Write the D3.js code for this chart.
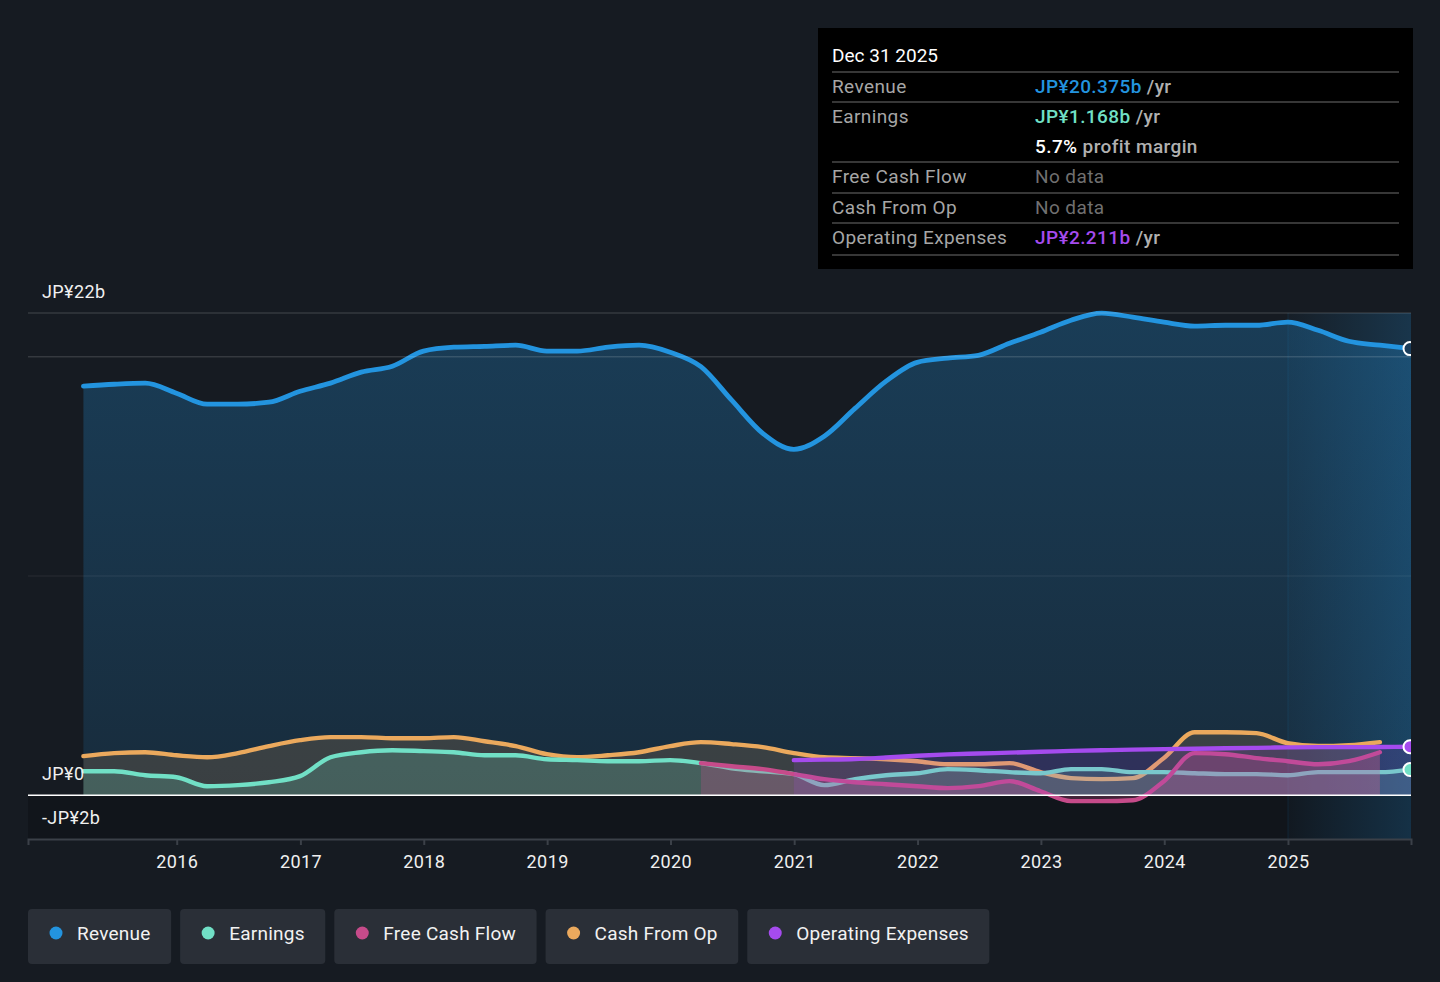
<!DOCTYPE html>
<html>
<head>
<meta charset="utf-8">
<script src="https://cdn.jsdelivr.net/npm/d3@7"></script>
<style>
  body { margin: 0; background: #161b22; }
  svg { display: block; font-family: Roboto, "Noto Sans", sans-serif; }
</style>
</head>
<body>
<svg id="chart" width="1440" height="982"></svg>
<script>
// quarter ends, values in JP¥ billions
const quarters = [
  '2015-03-31','2015-06-30','2015-09-30','2015-12-31',
  '2016-03-31','2016-06-30','2016-09-30','2016-12-31',
  '2017-03-31','2017-06-30','2017-09-30','2017-12-31',
  '2018-03-31','2018-06-30','2018-09-30','2018-12-31',
  '2019-03-31','2019-06-30','2019-09-30','2019-12-31',
  '2020-03-31','2020-06-30','2020-09-30','2020-12-31',
  '2021-03-31','2021-06-30','2021-09-30','2021-12-31',
  '2022-03-31','2022-06-30','2022-09-30','2022-12-31',
  '2023-03-31','2023-06-30','2023-09-30','2023-12-31',
  '2024-03-31','2024-06-30','2024-09-30','2024-12-31',
  '2025-03-31','2025-06-30','2025-09-30','2025-12-31'
];

const revenue = [18.66, 18.75, 18.80, 18.34, 17.84, 17.84, 17.93, 18.43, 18.80, 19.30, 19.57,
  20.26, 20.44, 20.48, 20.53, 20.26, 20.26, 20.44, 20.53, 20.21, 19.55, 18.02, 16.51, 15.78,
  16.38, 17.65, 18.89, 19.75, 19.94, 20.07, 20.62, 21.12, 21.67, 21.99, 21.81, 21.58, 21.40,
  21.44, 21.44, 21.58, 21.21, 20.71, 20.53, 20.375];

const earnings = [1.09, 1.09, 0.91, 0.82, 0.41, 0.46, 0.59, 0.87, 1.73, 1.96, 2.05, 2.01,
  1.96, 1.82, 1.82, 1.64, 1.60, 1.55, 1.55, 1.60, 1.46, 1.23, 1.09, 0.96, 0.46, 0.73, 0.91,
  1.00, 1.19, 1.14, 1.05, 1.00, 1.19, 1.19, 1.05, 1.05, 1.00, 0.96, 0.96, 0.91, 1.05, 1.05,
  1.05, 1.168];

// starts 2020-03-31, ends 2025-09-30
const freeCashFlow = [1.46, 1.32, 1.19, 0.96, 0.73, 0.59, 0.50, 0.41, 0.32, 0.41, 0.64,
  0.18, -0.27, -0.27, -0.23, 0.64, 1.92, 1.87, 1.69, 1.55, 1.41, 1.55, 1.96];

// starts 2015-03-31, ends 2025-09-30
const cashFromOp = [1.78, 1.92, 1.96, 1.82, 1.73, 1.92, 2.24, 2.51, 2.65, 2.65, 2.60, 2.60,
  2.65, 2.46, 2.24, 1.87, 1.73, 1.82, 1.96, 2.24, 2.42, 2.33, 2.19, 1.92, 1.73, 1.69, 1.64,
  1.55, 1.41, 1.41, 1.46, 1.05, 0.78, 0.73, 0.78, 1.70, 2.87, 2.87, 2.83, 2.37, 2.24, 2.28,
  2.42];

// starts 2020-12-31
const opExpenses = [1.60, 1.62, 1.65, 1.72, 1.80, 1.86, 1.90, 1.94, 1.98, 2.02, 2.05, 2.08,
  2.10, 2.12, 2.14, 2.16, 2.18, 2.19, 2.19, 2.20, 2.211];

const yTicks = [-2, 0, 22];
const gridValues = [10, 20, 22];
const xTickYears = [2016, 2017, 2018, 2019, 2020, 2021, 2022, 2023, 2024, 2025];

const colors = {
  revenue: '#2394df',
  earnings: '#71e0c6',
  fcf: '#c64b8a',
  cfo: '#eba95d',
  opex: '#a54bee'
};

const parse = d3.timeParse('%Y-%m-%d');
const dates = quarters.map(parse);

function series(values, startDate) {
  const i0 = quarters.indexOf(startDate);
  return values.map((v, i) => ({ date: dates[i0 + i], value: v }));
}

const revData = series(revenue, '2015-03-31');
const earnData = series(earnings, '2015-03-31');
const fcfData = series(freeCashFlow, '2020-03-31');
const cfoData = series(cashFromOp, '2015-03-31');
const opexData = series(opExpenses, '2020-12-31');

const plotLeft = 28, plotRight = 1411, plotTop = 313, plotBottom = 839;

const x = d3.scaleTime()
  .domain([new Date(2014, 9, 18), new Date(2025, 11, 31)])
  .range([plotLeft, plotRight]);
const y = d3.scaleLinear().domain([-2, 22]).range([plotBottom, plotTop]);

const svg = d3.select('#chart');
const defs = svg.append('defs');

defs.append('clipPath').attr('id', 'plotClip')
  .append('rect').attr('x', plotLeft).attr('y', 0)
  .attr('width', plotRight - plotLeft).attr('height', plotBottom);

svg.append('rect').attr('width', 1440).attr('height', 982).attr('fill', '#161b22');

// darker strip below zero
svg.append('rect')
  .attr('x', plotLeft).attr('y', y(0))
  .attr('width', plotRight - plotLeft).attr('height', plotBottom - y(0))
  .attr('fill', '#11151b');

// highlight band for last year
const bandStart = x(new Date(2025, 0, 1));
const band = defs.append('linearGradient').attr('id', 'band').attr('x1', 0).attr('x2', 1).attr('y1', 0).attr('y2', 0);
band.append('stop').attr('offset', 0).attr('stop-color', '#2394df').attr('stop-opacity', 0.03);
band.append('stop').attr('offset', 1).attr('stop-color', '#2394df').attr('stop-opacity', 0.22);
svg.append('rect')
  .attr('x', bandStart).attr('y', plotTop)
  .attr('width', plotRight - bandStart).attr('height', plotBottom - plotTop)
  .attr('fill', 'url(#band)');
svg.append('line')
  .attr('x1', bandStart).attr('x2', bandStart)
  .attr('y1', plotTop).attr('y2', plotBottom)
  .attr('stroke', '#2394df').attr('stroke-opacity', 0.12);

const revGrad = defs.append('linearGradient').attr('id', 'revGrad')
  .attr('gradientUnits', 'userSpaceOnUse').attr('x1', 0).attr('x2', 0).attr('y1', y(22)).attr('y2', y(0));
revGrad.append('stop').attr('offset', 0).attr('stop-color', colors.revenue).attr('stop-opacity', 0.28);
revGrad.append('stop').attr('offset', 1).attr('stop-color', colors.revenue).attr('stop-opacity', 0.14);

const line = d3.line().x(d => x(d.date)).y(d => y(d.value)).curve(d3.curveMonotoneX);
const area = d3.area().x(d => x(d.date)).y0(y(0)).y1(d => y(d.value)).curve(d3.curveMonotoneX);

const plot = svg.append('g').attr('clip-path', 'url(#plotClip)');

function drawSeries(data, color, fill, width) {
  plot.append('path').datum(data).attr('d', area).attr('fill', fill);
  plot.append('path').datum(data).attr('d', line)
    .attr('fill', 'none').attr('stroke', color)
    .attr('stroke-width', width).attr('stroke-linecap', 'round');
}

drawSeries(revData, colors.revenue, 'url(#revGrad)', 4.8);

// gridlines over the revenue area
gridValues.forEach(v => {
  plot.append('line')
    .attr('x1', plotLeft).attr('x2', plotRight)
    .attr('y1', y(v)).attr('y2', y(v))
    .attr('stroke', '#ffffff').attr('stroke-opacity', v === 10 ? 0.08 : 0.2);
});

drawSeries(cfoData, colors.cfo, 'rgba(235,169,93,0.16)', 4.4);
drawSeries(earnData, colors.earnings, 'rgba(113,224,198,0.2)', 4.4);
drawSeries(fcfData, colors.fcf, 'rgba(198,75,138,0.28)', 4.4);
drawSeries(opexData, colors.opex, 'rgba(165,75,238,0.16)', 4.4);

// zero line and bottom axis
svg.append('line')
  .attr('x1', plotLeft).attr('x2', plotRight).attr('y1', y(0)).attr('y2', y(0))
  .attr('stroke', '#ffffff').attr('stroke-width', 1.5);

const xAxis = svg.append('g')
  .attr('transform', `translate(0,${plotBottom})`)
  .call(d3.axisBottom(x)
    .tickValues(xTickYears.map(yr => new Date(yr, 0, 1)))
    .tickFormat(d3.timeFormat('%Y'))
    .tickSize(6).tickPadding(10));
xAxis.select('.domain').attr('stroke', '#3b4048').attr('stroke-width', 2);
xAxis.selectAll('.tick line').attr('stroke', '#3b4048').attr('stroke-width', 2);
xAxis.selectAll('.tick text')
  .attr('fill', '#f0f0f0').attr('font-size', 18).attr('letter-spacing', 0.4)
  .attr('font-family', 'Roboto');

// y labels
svg.selectAll('.ylab').data(yTicks).enter().append('text')
  .attr('x', 42)
  .attr('y', d => y(d) - 15)
  .attr('fill', '#f0f0f0').attr('font-size', 18).attr('letter-spacing', 0.4)
  .text(d => d === 0 ? 'JP¥0' : (d < 0 ? '-JP¥' + Math.abs(d) + 'b' : 'JP¥' + d + 'b'));

// end markers, clipped at the plot edge
[[revData, '#1b3d5a'], [opexData, colors.opex], [earnData, colors.earnings]].forEach(([data, c]) => {
  const last = data[data.length - 1];
  plot.append('circle')
    .attr('cx', x(last.date) - 1).attr('cy', y(last.value)).attr('r', 6.5)
    .attr('fill', c).attr('stroke', '#ffffff').attr('stroke-width', 2);
});

// tooltip box
const tip = svg.append('g').attr('letter-spacing', 0.4);
tip.append('rect').attr('x', 818).attr('y', 28).attr('width', 595).attr('height', 241).attr('fill', '#000');
tip.append('text').attr('x', 832).attr('y', 62).attr('fill', '#fff').attr('font-size', 19)
  .attr('letter-spacing', 0).text('Dec 31 2025');
[72, 102, 162, 193, 223, 255].forEach(ly => {
  tip.append('line').attr('x1', 832).attr('x2', 1399).attr('y1', ly).attr('y2', ly)
    .attr('stroke', '#4a4a4a').attr('stroke-width', 1.5);
});
const rows = [
  { y: 93, label: 'Revenue', value: 'JP¥20.375b', color: colors.revenue, unit: ' /yr' },
  { y: 123, label: 'Earnings', value: 'JP¥1.168b', color: colors.earnings, unit: ' /yr' },
  { y: 153, label: '', value: '5.7%', color: '#ffffff', unit: ' profit margin' },
  { y: 183, label: 'Free Cash Flow', value: 'No data', color: '#707070', unit: '', light: true },
  { y: 214, label: 'Cash From Op', value: 'No data', color: '#707070', unit: '', light: true },
  { y: 244, label: 'Operating Expenses', value: 'JP¥2.211b', color: colors.opex, unit: ' /yr' }
];
rows.forEach(r => {
  tip.append('text').attr('x', 832).attr('y', r.y).attr('fill', '#a6a6a6').attr('font-size', 19).text(r.label);
  const t = tip.append('text').attr('x', 1035).attr('y', r.y).attr('font-size', 19);
  t.append('tspan').attr('fill', r.color).attr('font-weight', r.light ? 400 : 500).text(r.value);
  t.append('tspan').attr('fill', '#b0b0b0').attr('font-weight', 500).text(r.unit);
});

// legend
const legendItems = [
  ['Revenue', colors.revenue], ['Earnings', colors.earnings], ['Free Cash Flow', colors.fcf],
  ['Cash From Op', colors.cfo], ['Operating Expenses', colors.opex]
];
let lx = 28;
legendItems.forEach(([name, c]) => {
  const g = svg.append('g');
  const box = g.append('rect').attr('x', lx).attr('y', 909).attr('height', 55).attr('rx', 4).attr('fill', '#2a2f37');
  g.append('circle').attr('cx', lx + 28).attr('cy', 933).attr('r', 6.5).attr('fill', c);
  const t = g.append('text').attr('x', lx + 49).attr('y', 940).attr('fill', '#f2f2f2')
    .attr('font-size', 19).attr('letter-spacing', 0.25).text(name);
  const w = t.node().getComputedTextLength() + 49 + 20.5;
  box.attr('width', w);
  lx += w + 9;
});
</script>
</body>
</html>
